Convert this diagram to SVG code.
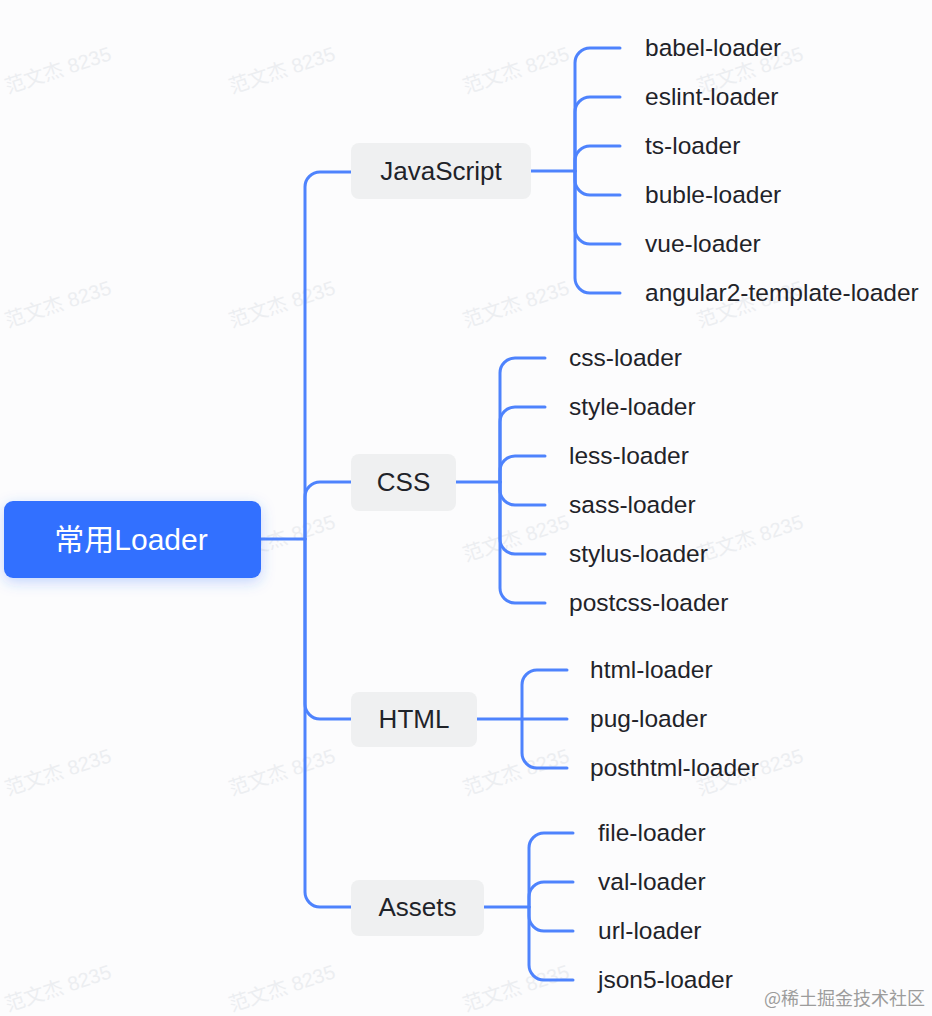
<svg xmlns="http://www.w3.org/2000/svg" width="932" height="1016" viewBox="0 0 932 1016">
<defs>
<style>
.bg{fill:#FCFCFD}
.wm{font-family:"Liberation Sans","Noto Sans CJK SC",sans-serif;font-size:20px;fill:#ECEEF1;text-anchor:middle}
.ln{fill:none;stroke:#4E83FD;stroke-width:3;stroke-linecap:round}
.root{fill:#3370FF}
.rt{font-family:"Liberation Sans","Noto Sans CJK SC",sans-serif;font-size:30px;fill:#FFFFFF;text-anchor:middle}
.box{fill:#EFF0F1}
.bt{font-family:"Liberation Sans","Noto Sans CJK SC",sans-serif;font-size:26px;fill:#1F2329;text-anchor:middle}
.lt{font-family:"Liberation Sans","Noto Sans CJK SC",sans-serif;font-size:24.5px;fill:#1F2329}
.sig{font-family:"Noto Sans CJK SC",sans-serif;font-size:18px;fill:#9C9C9C}
</style>
<filter id="glow" x="-20%" y="-40%" width="140%" height="180%">
<feDropShadow dx="0" dy="4" stdDeviation="7" flood-color="#3370FF" flood-opacity="0.28"/>
</filter>
</defs>
<rect class="bg" x="0" y="0" width="932" height="1016"/>
<g id="watermarks">
<text class="wm" transform="translate(58,70) rotate(-18)" y="7">范文杰 8235</text>
<text class="wm" transform="translate(282,70) rotate(-18)" y="7">范文杰 8235</text>
<text class="wm" transform="translate(516,70) rotate(-18)" y="7">范文杰 8235</text>
<text class="wm" transform="translate(750,70) rotate(-18)" y="7">范文杰 8235</text>
<text class="wm" transform="translate(58,304) rotate(-18)" y="7">范文杰 8235</text>
<text class="wm" transform="translate(282,304) rotate(-18)" y="7">范文杰 8235</text>
<text class="wm" transform="translate(516,304) rotate(-18)" y="7">范文杰 8235</text>
<text class="wm" transform="translate(750,304) rotate(-18)" y="7">范文杰 8235</text>
<text class="wm" transform="translate(58,538) rotate(-18)" y="7">范文杰 8235</text>
<text class="wm" transform="translate(282,538) rotate(-18)" y="7">范文杰 8235</text>
<text class="wm" transform="translate(516,538) rotate(-18)" y="7">范文杰 8235</text>
<text class="wm" transform="translate(750,538) rotate(-18)" y="7">范文杰 8235</text>
<text class="wm" transform="translate(58,772) rotate(-18)" y="7">范文杰 8235</text>
<text class="wm" transform="translate(282,772) rotate(-18)" y="7">范文杰 8235</text>
<text class="wm" transform="translate(516,772) rotate(-18)" y="7">范文杰 8235</text>
<text class="wm" transform="translate(750,772) rotate(-18)" y="7">范文杰 8235</text>
<text class="wm" transform="translate(58,988) rotate(-18)" y="7">范文杰 8235</text>
<text class="wm" transform="translate(282,988) rotate(-18)" y="7">范文杰 8235</text>
<text class="wm" transform="translate(516,988) rotate(-18)" y="7">范文杰 8235</text>
</g>
<g id="connectors">
<path class="ln" d="M261,539 H305"/>
<path class="ln" d="M305,539 V187 A15,15 0 0 1 320,172 H351"/>
<path class="ln" d="M305,539 V497 A15,15 0 0 1 320,482 H351"/>
<path class="ln" d="M305,539 V704 A15,15 0 0 0 320,719 H351"/>
<path class="ln" d="M305,539 V892 A15,15 0 0 0 320,907 H351"/>
<path class="ln" d="M531,171 H575"/>
<path class="ln" d="M575,171 V63 A15,15 0 0 1 590,48 H620"/>
<path class="ln" d="M575,171 V112 A15,15 0 0 1 590,97 H620"/>
<path class="ln" d="M575,171 V161 A15,15 0 0 1 590,146 H620"/>
<path class="ln" d="M575,171 V180 A15,15 0 0 0 590,195 H620"/>
<path class="ln" d="M575,171 V229 A15,15 0 0 0 590,244 H620"/>
<path class="ln" d="M575,171 V278 A15,15 0 0 0 590,293 H620"/>
<path class="ln" d="M456,482 H500"/>
<path class="ln" d="M500,482 V373 A15,15 0 0 1 515,358 H545"/>
<path class="ln" d="M500,482 V422 A15,15 0 0 1 515,407 H545"/>
<path class="ln" d="M500,482 V471 A15,15 0 0 1 515,456 H545"/>
<path class="ln" d="M500,482 V490 A15,15 0 0 0 515,505 H545"/>
<path class="ln" d="M500,482 V539 A15,15 0 0 0 515,554 H545"/>
<path class="ln" d="M500,482 V588 A15,15 0 0 0 515,603 H545"/>
<path class="ln" d="M477,719 H567"/>
<path class="ln" d="M522,719 V685 A15,15 0 0 1 537,670 H567"/>
<path class="ln" d="M522,719 V753 A15,15 0 0 0 537,768 H567"/>
<path class="ln" d="M484,907 H529"/>
<path class="ln" d="M529,907 V848 A15,15 0 0 1 544,833 H573"/>
<path class="ln" d="M529,907 V897 A15,15 0 0 1 544,882 H573"/>
<path class="ln" d="M529,907 V916 A15,15 0 0 0 544,931 H573"/>
<path class="ln" d="M529,907 V965 A15,15 0 0 0 544,980 H573"/>
</g>
<g id="root">
<rect class="root" x="4" y="501" width="257" height="77" rx="9" filter="url(#glow)"/>
<text class="rt" x="131" y="550">常用Loader</text>
</g>
<g id="javascript">
<rect class="box" x="351" y="143" width="180" height="56" rx="8"/>
<text class="bt" x="441" y="180">JavaScript</text>
</g>
<g id="css">
<rect class="box" x="351" y="454" width="105" height="57" rx="8"/>
<text class="bt" x="403.5" y="491">CSS</text>
</g>
<g id="html">
<rect class="box" x="351" y="692" width="126" height="55" rx="8"/>
<text class="bt" x="414" y="728">HTML</text>
</g>
<g id="assets">
<rect class="box" x="351" y="880" width="133" height="56" rx="8"/>
<text class="bt" x="417.5" y="916">Assets</text>
</g>
<g id="js-leaves">
<text id="babel-loader" class="lt" x="645" y="56">babel-loader</text>
<text id="eslint-loader" class="lt" x="645" y="105">eslint-loader</text>
<text id="ts-loader" class="lt" x="645" y="154">ts-loader</text>
<text id="buble-loader" class="lt" x="645" y="203">buble-loader</text>
<text id="vue-loader" class="lt" x="645" y="252">vue-loader</text>
<text id="angular2-template-loader" class="lt" x="645" y="301">angular2-template-loader</text>
</g>
<g id="css-leaves">
<text id="css-loader" class="lt" x="569" y="366">css-loader</text>
<text id="style-loader" class="lt" x="569" y="415">style-loader</text>
<text id="less-loader" class="lt" x="569" y="464">less-loader</text>
<text id="sass-loader" class="lt" x="569" y="513">sass-loader</text>
<text id="stylus-loader" class="lt" x="569" y="562">stylus-loader</text>
<text id="postcss-loader" class="lt" x="569" y="611">postcss-loader</text>
</g>
<g id="html-leaves">
<text id="html-loader" class="lt" x="590" y="678">html-loader</text>
<text id="pug-loader" class="lt" x="590" y="727">pug-loader</text>
<text id="posthtml-loader" class="lt" x="590" y="776">posthtml-loader</text>
</g>
<g id="assets-leaves">
<text id="file-loader" class="lt" x="598" y="841">file-loader</text>
<text id="val-loader" class="lt" x="598" y="890">val-loader</text>
<text id="url-loader" class="lt" x="598" y="939">url-loader</text>
<text id="json5-loader" class="lt" x="598" y="988">json5-loader</text>
</g>
<text class="sig" x="764" y="1005">@稀土掘金技术社区</text>
</svg>
